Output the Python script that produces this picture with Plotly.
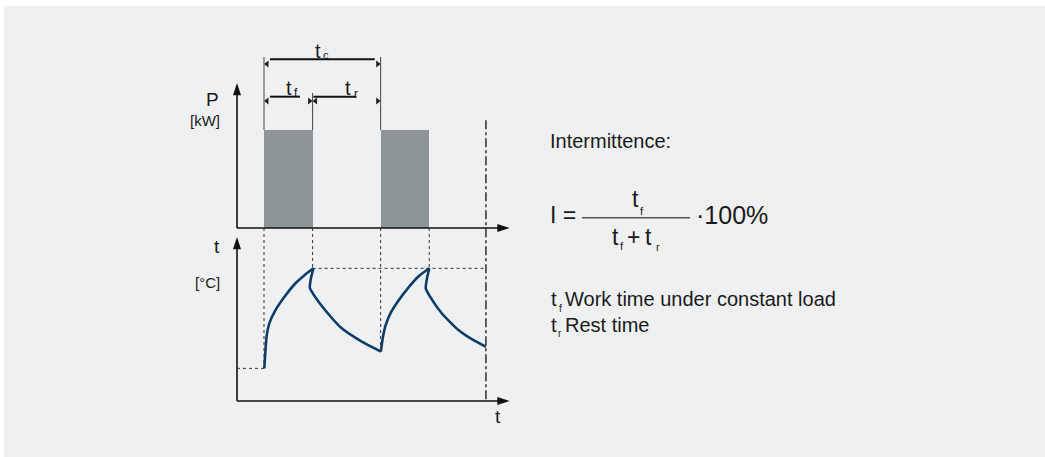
import plotly.graph_objects as go

# ---------------- data (schematic units) ----------------
bar_start = [1.0, 5.32]          # start of each working period (time units)
bar_end = [2.8, 7.12]            # end of each working period
power_level = 1.0                # P during work (kW, schematic)
time_marker = 9.22               # dash-dot end-of-view marker
time_axis_end = 10.1
power_axis_end = 1.48
temp_axis_end = 100.0

curve_time = [1.01, 1.05, 1.10, 1.20, 1.41, 1.78, 2.15, 2.52, 2.83,
              2.74, 2.70, 2.89, 3.26, 3.88, 4.62, 5.33,
              5.40, 5.50, 5.70, 5.97, 6.34, 6.71, 7.12,
              7.04, 6.99, 7.15, 7.58, 8.20, 8.81, 9.22]
curve_temp = [19.9, 30.0, 40.0, 47.5, 55.0, 64.0, 71.5, 77.0, 80.9,
              75.0, 68.7, 63.6, 55.5, 44.3, 36.2, 30.1,
              38.5, 46.0, 54.0, 61.0, 69.0, 75.8, 80.9,
              75.0, 68.7, 63.6, 53.5, 43.3, 36.6, 33.1]
segment_breaks = [0, 8, 15, 22, 29]   # rise / cool / rise / cool
start_temp = 19.9
peak_temp = 80.9

# ---------------- layout geometry ----------------
W, H = 1045, 457
X0_PX, PX_PER_TIME = 237, 27.0
P0_PX, PX_PER_P = 228, 98.0
T0_PX, PX_PER_DEG = 401, 1.64

def p_to_T(p):
    py = P0_PX - p * PX_PER_P
    return (T0_PX - py) / PX_PER_DEG

def fx(px):
    return px / W

def fy(py):
    return 1 - py / H

FONT = "Liberation Sans, Arial, sans-serif"
INK = "#1a1a1a"
BAR = "#8e9598"
CURVE = "#0d3d66"
BG = "#eff0f2"
AXIS = "#111"

fig = go.Figure()

# bars (power)
fig.add_trace(go.Bar(
    x=[(s + e) / 2 for s, e in zip(bar_start, bar_end)],
    y=[power_level] * len(bar_start),
    width=[e - s for s, e in zip(bar_start, bar_end)],
    marker=dict(color=BAR, line=dict(width=0)),
    xaxis="x", yaxis="y", showlegend=False, hoverinfo="skip"))

# temperature curve segments
for a, b in zip(segment_breaks[:-1], segment_breaks[1:]):
    fig.add_trace(go.Scatter(
        x=curve_time[a:b + 1], y=curve_temp[a:b + 1], mode="lines",
        line=dict(color=CURVE, width=2.6, shape="spline", smoothing=0.5),
        xaxis="x", yaxis="y2", showlegend=False, hoverinfo="skip"))

shapes = []
# white outer border on top / left of the grey panel
shapes.append(dict(type="rect", xref="paper", yref="paper", x0=0, x1=1, y0=fy(6), y1=1,
                   fillcolor="white", line=dict(width=0), layer="below"))
shapes.append(dict(type="rect", xref="paper", yref="paper", x0=0, x1=fx(4), y0=0, y1=1,
                   fillcolor="white", line=dict(width=0), layer="below"))

# axis lines (stop just short of the arrow tips)
BACK = 8  # px
shapes.append(dict(type="line", xref="x", yref="y", x0=0, x1=0, y0=0,
                   y1=power_axis_end - BACK / PX_PER_P, line=dict(color=AXIS, width=1.6)))
shapes.append(dict(type="line", xref="x", yref="y", x0=0, x1=time_axis_end - BACK / PX_PER_TIME,
                   y0=0, y1=0, line=dict(color=AXIS, width=1.6)))
shapes.append(dict(type="line", xref="x", yref="y2", x0=0, x1=0, y0=0,
                   y1=temp_axis_end - BACK / PX_PER_DEG, line=dict(color=AXIS, width=1.6)))
shapes.append(dict(type="line", xref="x", yref="y2", x0=0, x1=time_axis_end - BACK / PX_PER_TIME,
                   y0=0, y1=0, line=dict(color=AXIS, width=1.6)))

# dotted verticals from top axis to the curve
top_T = p_to_T(0)
drop_pts = [(bar_start[0], start_temp), (bar_end[0], peak_temp),
            (bar_start[1], curve_temp[segment_breaks[2]]), (bar_end[1], peak_temp)]
for xv, tv in drop_pts:
    shapes.append(dict(type="line", xref="x", yref="y2", x0=xv, x1=xv, y0=top_T, y1=tv,
                       line=dict(color="#333", width=1, dash="dot")))
# dotted horizontals
shapes.append(dict(type="line", xref="x", yref="y2", x0=bar_end[0], x1=time_marker,
                   y0=peak_temp, y1=peak_temp, line=dict(color="#333", width=1, dash="dot")))
shapes.append(dict(type="line", xref="x", yref="y2", x0=0, x1=bar_start[0],
                   y0=start_temp, y1=start_temp, line=dict(color="#333", width=1, dash="dot")))
# dash-dot end marker
shapes.append(dict(type="line", xref="x", yref="y2", x0=time_marker, x1=time_marker,
                   y0=p_to_T(1.10), y1=0, line=dict(color="#111", width=1.3, dash="dashdot")))

# extension lines for the dimensions
for xv, ptop in [(bar_start[0], 1.745), (bar_start[1], 1.745), (bar_end[0], 1.378)]:
    shapes.append(dict(type="line", xref="x", yref="y", x0=xv, x1=xv, y0=power_level, y1=ptop,
                       line=dict(color="#444", width=1)))
# dimension lines
dim_tc, dim_tr = 1.722, 1.34
for x0, x1, yv in [(bar_start[0] + 0.22, bar_start[1] - 0.22, dim_tc),
                   (bar_start[0] + 0.22, bar_end[0] - 0.47, dim_tr),
                   (bar_end[0] + 0.03, bar_start[1] - 0.9, dim_tr)]:
    shapes.append(dict(type="line", xref="x", yref="y", x0=x0, x1=x1, y0=yv, y1=yv,
                       line=dict(color="#111", width=2)))
# fraction bar
shapes.append(dict(type="line", xref="paper", yref="paper", x0=fx(582), x1=fx(690),
                   y0=fy(217.7), y1=fy(217.7), line=dict(color="#555", width=1.5)))

# small dimension arrowheads
arr_y_tc, arr_y_tr = 1.673, 1.296
lx = [bar_start[0] + 0.11, bar_start[0] + 0.11, bar_end[0] + 0.11]
ly = [arr_y_tc, arr_y_tr, arr_y_tr]
rx = [bar_start[1] - 0.11, bar_end[0] - 0.11, bar_start[1] - 0.11]
ry = [arr_y_tc, arr_y_tr, arr_y_tr]
fig.add_trace(go.Scatter(x=lx, y=ly, mode="markers", xaxis="x", yaxis="y",
                         marker=dict(symbol="triangle-left", size=6, color="#222"),
                         showlegend=False, hoverinfo="skip"))
fig.add_trace(go.Scatter(x=rx, y=ry, mode="markers", xaxis="x", yaxis="y",
                         marker=dict(symbol="triangle-right", size=6, color="#222"),
                         showlegend=False, hoverinfo="skip"))

# axis arrowheads ('arrow' symbol has its tip at the data point)
HEAD = 13
fig.add_trace(go.Scatter(x=[0, time_axis_end], y=[power_axis_end, 0], mode="markers",
                         xaxis="x", yaxis="y", showlegend=False, hoverinfo="skip",
                         marker=dict(symbol="arrow", angle=[0, 90], size=HEAD, color=AXIS)))
fig.add_trace(go.Scatter(x=[0, time_axis_end], y=[temp_axis_end, 0], mode="markers",
                         xaxis="x", yaxis="y2", showlegend=False, hoverinfo="skip",
                         marker=dict(symbol="arrow", angle=[0, 90], size=HEAD, color=AXIS)))

ann = []

def txt(text, x, y, size, xanchor="left", yanchor="middle"):
    return dict(text=text, x=fx(x), y=fy(y), xref="paper", yref="paper", showarrow=False,
                xanchor=xanchor, yanchor=yanchor, font=dict(family=FONT, size=size, color=INK))

# axis labels
ann.append(txt("P", 221, 99, 19, xanchor="right"))
ann.append(txt("[kW]", 222, 120, 15, xanchor="right"))
ann.append(txt("t", 222, 246, 19, xanchor="right"))
ann.append(txt("[°C]", 222, 282, 15, xanchor="right"))
ann.append(txt("t", 498, 416, 19, xanchor="center"))

# dimension labels (symbol + subscript)
ann.append(txt("t", 312.5, 51, 20))
ann.append(txt("c", 320.5, 55.5, 11))
ann.append(txt("t", 284, 88, 20))
ann.append(txt("f", 291.5, 92.7, 12))
ann.append(txt("t", 342.5, 88, 20))
ann.append(txt("r", 351.5, 93.5, 12))

# formula
ann.append(txt("Intermittence:", 548, 141, 20))
ann.append(txt("I =", 548, 215, 23))
ann.append(txt("t", 629.5, 199, 23))
ann.append(txt("f", 637.5, 211, 11))
ann.append(txt("t", 609.5, 236.7, 23))
ann.append(txt("f", 617.5, 246, 11))
ann.append(txt("+", 633.5, 237.4, 23, xanchor="center"))
ann.append(txt("t", 643, 236.7, 23))
ann.append(txt("r", 654, 247, 11))
ann.append(txt("·100%", 694, 215, 25))

# legend text
ann.append(txt("t", 548.5, 299, 20))
ann.append(txt("f", 556.5, 308, 10))
ann.append(txt("Work time under constant load", 562.5, 299, 20))
ann.append(txt("t", 548.5, 325, 20))
ann.append(txt("r", 556, 333.5, 10))
ann.append(txt("Rest time", 562.5, 325, 20))

fig.update_layout(
    width=W, height=H, margin=dict(l=0, r=0, t=0, b=0),
    paper_bgcolor=BG, plot_bgcolor="rgba(0,0,0,0)",
    xaxis=dict(range=[-X0_PX / PX_PER_TIME, (W - X0_PX) / PX_PER_TIME], domain=[0, 1], visible=False),
    yaxis=dict(range=[(P0_PX - H) / PX_PER_P, P0_PX / PX_PER_P], domain=[0, 1], visible=False),
    yaxis2=dict(range=[(T0_PX - H) / PX_PER_DEG, T0_PX / PX_PER_DEG], domain=[0, 1],
                overlaying="y", visible=False),
    shapes=shapes, annotations=ann, bargap=0, showlegend=False,
)

fig.write_html("out.html", config={"displayModeBar": False},
               post_script="document.body.style.margin='0';document.body.style.overflow='hidden';")
